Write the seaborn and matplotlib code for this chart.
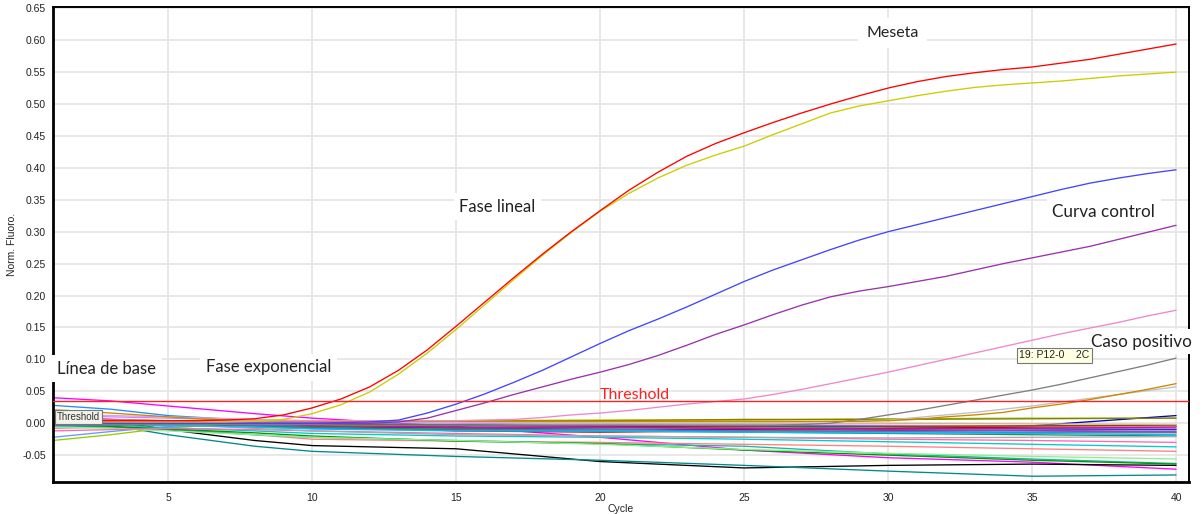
import numpy as np
import pandas as pd
import matplotlib
matplotlib.use("Agg")
import matplotlib.pyplot as plt
import seaborn as sns

# ---------------- data ----------------
cycles = list(range(1, 41))

red_curve = [0.004, 0.004, 0.004, 0.004, 0.004, 0.004, 0.005, 0.007, 0.013, 0.024,
             0.038, 0.057, 0.083, 0.115, 0.152, 0.190, 0.228, 0.265, 0.300, 0.333,
             0.365, 0.393, 0.418, 0.438, 0.455, 0.471, 0.486, 0.500, 0.513, 0.525,
             0.535, 0.543, 0.549, 0.554, 0.558, 0.564, 0.570, 0.578, 0.586, 0.594]
yellow_curve = [0.002, 0.002, 0.002, 0.002, 0.002, 0.002, 0.002, 0.003, 0.006, 0.015,
                0.029, 0.049, 0.077, 0.110, 0.147, 0.186, 0.225, 0.263, 0.299, 0.332,
                0.360, 0.384, 0.404, 0.420, 0.434, 0.452, 0.469, 0.486, 0.497, 0.505,
                0.513, 0.520, 0.526, 0.530, 0.533, 0.536, 0.540, 0.544, 0.547, 0.550]
blue_curve = [0.000, 0.000, 0.000, 0.000, 0.000, 0.000, 0.000, 0.000, 0.000, 0.000,
              0.001, 0.002, 0.005, 0.016, 0.030, 0.046, 0.064, 0.083, 0.104, 0.125,
              0.145, 0.163, 0.182, 0.202, 0.222, 0.240, 0.256, 0.272, 0.287, 0.300,
              0.311, 0.322, 0.333, 0.344, 0.355, 0.366, 0.376, 0.384, 0.391, 0.397]
purple_curve = [0.001, 0.001, 0.001, 0.000, 0.000, 0.000, 0.000, 0.000, 0.000, 0.000,
                0.000, 0.000, 0.002, 0.008, 0.020, 0.032, 0.045, 0.057, 0.069, 0.080,
                0.092, 0.106, 0.122, 0.139, 0.154, 0.170, 0.185, 0.198, 0.207, 0.214,
                0.222, 0.230, 0.240, 0.250, 0.259, 0.268, 0.277, 0.288, 0.299, 0.310]
pink_curve = [0.006, 0.006, 0.005, 0.005, 0.004, 0.004, 0.004, 0.004, 0.004, 0.004,
              0.004, 0.004, 0.004, 0.004, 0.004, 0.005, 0.006, 0.009, 0.013, 0.016,
              0.020, 0.025, 0.030, 0.034, 0.038, 0.045, 0.053, 0.062, 0.071, 0.080,
              0.090, 0.100, 0.110, 0.120, 0.130, 0.140, 0.149, 0.158, 0.168, 0.177]
grey_curve = [-0.002, -0.002, -0.002, -0.002, -0.002, -0.002, -0.002, -0.002, -0.002, -0.002,
              -0.003, -0.003, -0.003, -0.003, -0.003, -0.003, -0.003, -0.003, -0.003, -0.003,
              -0.003, -0.003, -0.003, -0.003, -0.003, -0.003, -0.002, 0.000, 0.006, 0.013,
              0.020, 0.028, 0.036, 0.044, 0.052, 0.061, 0.071, 0.081, 0.091, 0.102]
gold_curve = [0.021, 0.019, 0.016, 0.013, 0.010, 0.007, 0.005, 0.004, 0.003, 0.003,
              0.003, 0.003, 0.003, 0.003, 0.003, 0.003, 0.003, 0.003, 0.003, 0.003,
              0.003, 0.003, 0.003, 0.003, 0.003, 0.003, 0.003, 0.003, 0.003, 0.004,
              0.006, 0.010, 0.013, 0.017, 0.024, 0.030, 0.037, 0.045, 0.053, 0.062]
lightgrey_curve = [0.003, 0.003, 0.003, 0.002, 0.002, 0.002, 0.002, 0.002, 0.002, 0.002,
                   0.002, 0.002, 0.002, 0.002, 0.002, 0.002, 0.002, 0.002, 0.002, 0.002,
                   0.002, 0.002, 0.002, 0.002, 0.002, 0.002, 0.002, 0.003, 0.004, 0.005,
                   0.009, 0.013, 0.017, 0.022, 0.027, 0.033, 0.039, 0.045, 0.051, 0.057]

# background wells, read at a coarser set of cycles
cycles_bg = [1, 3, 5, 8, 10, 15, 20, 25, 30, 35, 40]
bg_magenta = [0.040, 0.035, 0.027, 0.015, 0.008, -0.005, -0.022, -0.042, -0.054, -0.061, -0.072]
bg_black = [0.008, 0.004, -0.010, -0.027, -0.035, -0.040, -0.060, -0.070, -0.066, -0.064, -0.066]
bg_teal = [0.000, -0.003, -0.018, -0.036, -0.044, -0.052, -0.058, -0.066, -0.075, -0.083, -0.081]
bg_yellowgreen = [-0.027, -0.018, -0.007, 0.000, 0.002, 0.004, 0.005, 0.005, 0.007, 0.008, 0.008]
bg_cornflower = [-0.022, -0.013, -0.005, -0.002, -0.002, -0.003, -0.005, -0.006, -0.006, -0.008, -0.008]
bg_dodger = [0.028, 0.022, 0.012, 0.004, 0.000, -0.002, -0.004, -0.005, -0.008, -0.009, -0.010]
bg_violet = [0.012, 0.010, 0.008, 0.005, 0.003, 0.000, -0.002, -0.003, -0.004, -0.004, -0.005]
bg_salmon = [-0.008, -0.006, -0.008, -0.018, -0.025, -0.028, -0.030, -0.033, -0.036, -0.040, -0.044]
bg_turquoise = [0.000, -0.003, -0.007, -0.012, -0.016, -0.020, -0.022, -0.025, -0.029, -0.033, -0.037]
bg_lightseagreen = [-0.004, -0.006, -0.010, -0.018, -0.022, -0.027, -0.032, -0.036, -0.048, -0.056, -0.063]
bg_green = [-0.002, -0.005, -0.009, -0.015, -0.020, -0.028, -0.032, -0.042, -0.050, -0.058, -0.064]
bg_lightgreen = [-0.006, -0.008, -0.012, -0.018, -0.022, -0.027, -0.033, -0.041, -0.047, -0.052, -0.056]
bg_darkblue = [0.002, 0.001, -0.001, -0.004, -0.006, -0.007, -0.006, -0.005, -0.004, -0.004, 0.012]
bg_purple = [0.004, 0.003, 0.001, -0.003, -0.005, -0.008, -0.009, -0.010, -0.011, -0.011, -0.010]
bg_darkred = [0.005, 0.004, 0.002, -0.002, -0.004, -0.012, -0.014, -0.012, -0.008, -0.006, -0.005]
bg_grey = [0.006, 0.005, 0.003, -0.004, -0.008, -0.011, -0.013, -0.012, -0.013, -0.015, -0.015]
bg_steelblue = [-0.004, -0.003, -0.003, -0.006, -0.008, -0.009, -0.010, -0.012, -0.013, -0.014, -0.013]
bg_olive = [0.008, 0.006, 0.004, 0.002, 0.002, 0.003, 0.004, 0.006, 0.006, 0.007, 0.008]
bg_plum = [0.015, 0.012, 0.010, 0.006, 0.004, 0.002, 0.000, -0.002, -0.003, -0.004, -0.005]
bg_seagreen = [0.003, 0.002, 0.000, -0.004, -0.006, -0.010, -0.012, -0.014, -0.016, -0.018, -0.020]
bg_hotpink = [-0.012, -0.010, -0.008, -0.010, -0.012, -0.016, -0.020, -0.022, -0.025, -0.027, -0.030]
bg_darkgrey = [0.002, 0.001, -0.002, -0.008, -0.012, -0.018, -0.020, -0.022, -0.023, -0.022, -0.021]
bg_slateblue = [-0.002, -0.002, -0.001, -0.003, -0.004, -0.006, -0.007, -0.008, -0.010, -0.012, -0.014]
bg_brown = [0.006, 0.004, 0.002, 0.000, -0.001, -0.003, -0.004, -0.005, -0.005, -0.004, -0.003]
bg_tan = [0.004, 0.004, 0.003, 0.003, 0.003, 0.002, 0.000, 0.000, 0.000, -0.001, -0.002]
bg_deepsky = [0.001, 0.000, -0.003, -0.006, -0.009, -0.012, -0.012, -0.014, -0.015, -0.016, -0.018]
bg_mvr = [0.008, 0.006, 0.003, 0.000, -0.003, -0.006, -0.006, -0.008, -0.009, -0.008, -0.006]

threshold_value = 0.035

x_ticks = [5, 10, 15, 20, 25, 30, 35, 40]
y_ticks = [-0.05, 0.00, 0.05, 0.10, 0.15, 0.20, 0.25, 0.30, 0.35, 0.40, 0.45, 0.50, 0.55, 0.60, 0.65]

# ---------------- build table ----------------
bg_series = {
    "#ff00ff": bg_magenta, "#000000": bg_black, "#008b8b": bg_teal,
    "#99cc00": bg_yellowgreen, "#6699ff": bg_cornflower, "#1e90ff": bg_dodger,
    "#cc88ff": bg_violet, "#ff8080": bg_salmon, "#00cccc": bg_turquoise,
    "#20b2aa": bg_lightseagreen, "#009900": bg_green, "#90ee90": bg_lightgreen,
    "#0000cc": bg_darkblue, "#990099": bg_purple, "#cc0000": bg_darkred,
    "#808080": bg_grey, "#4682b4": bg_steelblue, "#808000": bg_olive,
    "#dda0dd": bg_plum, "#2e8b57": bg_seagreen, "#ff69b4": bg_hotpink,
    "#a9a9a9": bg_darkgrey, "#6a5acd": bg_slateblue, "#8b4513": bg_brown,
    "#d2b48c": bg_tan, "#00bfff": bg_deepsky, "#c71585": bg_mvr,
}
main_series = {
    "#c0c0c0": lightgrey_curve, "#7f7f7f": grey_curve, "#cc8800": gold_curve,
    "#ee88cc": pink_curve, "#9933aa": purple_curve, "#4444ff": blue_curve,
    "#cccc00": yellow_curve, "#ff0000": red_curve,
}

rows = []
for col, vals in bg_series.items():
    for c, v in zip(cycles_bg, vals):
        rows.append((col, c, v))
for col, vals in main_series.items():
    for c, v in zip(cycles, vals):
        rows.append((col, c, v))
df = pd.DataFrame(rows, columns=["well", "cycle", "fluor"])
palette = {k: k for k in df["well"].unique()}

# ---------------- draw ----------------
sns.set_theme(style="white")
plt.rcParams["font.family"] = ["Liberation Sans", "DejaVu Sans"]

fig = plt.figure(figsize=(12.02, 5.14), dpi=100)
ax = fig.add_axes([0.0441, 0.0623, 0.9451, 0.9241])

ax.grid(True, color="#e6e6e6", linewidth=1.3, zorder=0)
ax.set_axisbelow(True)

sns.lineplot(data=df, x="cycle", y="fluor", hue="well", palette=palette,
             hue_order=list(bg_series.keys()) + list(main_series.keys()),
             estimator=None, legend=False, linewidth=0.95, ax=ax)

ax.axhline(threshold_value, color="#ff2020", linewidth=1.0, zorder=3)

ax.set_xlim(1, 40.45)
ax.set_ylim(-0.092, 0.652)
ax.set_xticks(x_ticks)
ax.set_yticks(y_ticks)
ax.set_yticklabels([f"{t:.2f}" for t in y_ticks])
ax.tick_params(axis="both", labelsize=7.5, length=3, width=0.8, color="#555555",
               direction="out", pad=2, labelcolor="#222222")
ax.tick_params(axis="x", pad=5)
ax.set_xlabel("Cycle", fontsize=7.5, labelpad=1, color="#222222")
ax.set_ylabel("Norm. Fluoro.", fontsize=7.5, labelpad=4, color="#222222")

for s in ["left", "bottom", "right", "top"]:
    ax.spines[s].set_visible(True)
    ax.spines[s].set_color("black")
ax.spines["left"].set_linewidth(2.0)
ax.spines["bottom"].set_linewidth(2.0)
ax.spines["top"].set_linewidth(1.4)
ax.spines["right"].set_linewidth(1.4)

# annotations (Calibri-like text on white boxes)
ann_font = ["Lato", "DejaVu Sans"]
white_box = dict(facecolor="white", edgecolor="none", pad=4)
ax.text(1.15, 0.0855, "Línea de base", fontsize=12, family=ann_font,
        color="#222222", va="center", ha="left", bbox=white_box, zorder=6)
ax.text(6.3, 0.0875, "Fase exponencial", fontsize=12, family=ann_font,
        color="#222222", va="center", ha="left", bbox=white_box, zorder=6)
ax.text(15.1, 0.339, "Fase lineal", fontsize=12, family=ann_font,
        color="#222222", va="center", ha="left", bbox=white_box, zorder=6)
ax.text(29.25, 0.611, "Meseta", fontsize=11.5, family=ann_font,
        color="#222222", va="center", ha="left",
        bbox=dict(facecolor="white", edgecolor="none", pad=6), zorder=6)
ax.text(35.7, 0.331, "Curva control", fontsize=12.3, family=ann_font,
        color="#222222", va="center", ha="left", bbox=white_box, zorder=6)
ax.text(37.05, 0.128, "Caso positivo", fontsize=12.3, family=ann_font,
        color="#222222", va="center", ha="left",
        bbox=dict(facecolor="white", edgecolor="none", pad=3), zorder=6)
ax.text(20.0, 0.0435, "Threshold", fontsize=11.5, family=ann_font,
        color="#ff2020", va="center", ha="left", zorder=6)

ax.text(1.12, 0.0095, "Threshold", fontsize=7, color="#333333", va="center", ha="left",
        bbox=dict(facecolor="#f2f2ea", edgecolor="#777777", linewidth=0.8,
                  boxstyle="square,pad=0.2"), zorder=7)
ax.text(34.55, 0.1065, "19: P12-0    2C", fontsize=7.5, color="#222222",
        va="center", ha="left",
        bbox=dict(facecolor="#ffffe1", edgecolor="#777777", linewidth=0.8,
                  boxstyle="square,pad=0.25"), zorder=7)

fig.savefig("out.png", dpi=100, facecolor="white")
